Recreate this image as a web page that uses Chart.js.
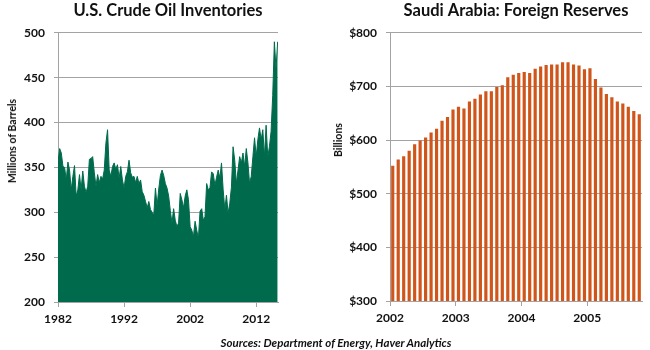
<!DOCTYPE html>
<html>
<head>
<meta charset="utf-8">
<script src="https://cdn.jsdelivr.net/npm/chart.js@4.4.1/dist/chart.umd.min.js"></script>
<style>
  html, body { margin: 0; padding: 0; background: #fff; }
  #wrap { position: relative; width: 650px; height: 350px; font-family: Lato, sans-serif; color: #111; }
  .panel { position: absolute; top: 0; width: 325px; height: 350px; }
  .ytitle { position: absolute; font-weight: bold; font-size: 10.5px; white-space: nowrap;
            transform: translate(-50%, -50%) rotate(-90deg); }
  #source { position: absolute; left: 336px; top: 342px; transform: translate(-50%, -50%);
            font-weight: bold; font-style: italic; font-size: 11.5px; white-space: nowrap; }
</style>
</head>
<body>
<div id="wrap">
  <div class="panel" style="left:0"><canvas id="oilChart" width="325" height="350"></canvas></div>
  <div class="panel" style="left:325px"><canvas id="reserveChart" width="325" height="350"></canvas></div>
  <div class="ytitle" style="left:12px; top:141px">Millions of Barrels</div>
  <div class="ytitle" style="left:338px; top:140px">Billions</div>
  <div id="source">Sources: Department of Energy, Haver Analytics</div>
</div>

<script>
// left panel: quarterly readings, millions of barrels
const invStart = 1982;
const invStep = 0.25;
const inventories = [
  356, 371, 366, 351,  350, 336, 356, 347,  325, 340, 352, 318,  325, 342, 325, 346,
  329, 322, 329, 359,  360, 362, 344, 329,  342, 333, 340, 337,  347, 377, 392, 347,
  340, 351, 355, 348,  353, 338, 351, 336,  327, 340, 345, 358,  344, 339, 340, 333,
  340, 332, 336, 323,  319, 312, 305, 312,  303, 300, 297, 327,  307, 326, 341, 347,
  341, 332, 327, 318,  302, 288, 304, 291,  284, 288, 321, 314,  305, 318, 325, 314,
  284, 280, 273, 290,  280, 271, 301, 304,  291, 295, 332, 325,  327, 345, 343, 330,
  339, 347, 338, 355,  325, 303, 319, 299,  310, 328, 373, 358,  332, 347, 362, 355,
  366, 351, 371, 355,  332, 340, 362, 383,  362, 381, 394, 381,  392, 362, 397, 362,
  373, 390, 430, 490,  460, 490
];
const invTicks = [1982, 1992, 2002, 2012];

// right panel: monthly, billions of dollars, Jan 2002 onward
const resStart = 2002;
const reserves = [
  552, 564, 570, 580, 592, 599, 605, 614, 621, 636, 643, 657,
  662, 659, 672, 677, 685, 691, 691, 699, 702, 717, 722, 725,
  727, 725, 733, 737, 740, 741, 741, 745, 745, 741, 739, 732,
  734, 714, 698, 686, 680, 672, 668, 662, 654, 648
];
const resTicks = [2002, 2003, 2004, 2005];

const GREEN = "#006B4C";
const ORANGE = "#D0551B";
const GRID = "#a3a3a3";
const TXT = "#111";
const tickFont = { family: "Lato", size: 12, weight: "bold" };
const titleFont = { family: "Lato", size: 16.5, weight: "bold" };

new Chart(document.getElementById("oilChart"), {
  type: "line",
  data: {
    datasets: [{
      data: inventories.map((v, i) => ({ x: invStart + i * invStep, y: v })),
      fill: "start",
      backgroundColor: GREEN,
      borderColor: GREEN,
      borderWidth: 1,
      pointRadius: 0,
      tension: 0
    }]
  },
  options: {
    responsive: false,
    animation: false,
    layout: { padding: { left: 0, right: 47, top: 0, bottom: 20 } },
    plugins: {
      legend: { display: false },
      tooltip: { enabled: false },
      title: {
        display: true,
        text: "U.S. Crude Oil Inventories",
        fullSize: false,
        font: titleFont,
        color: TXT,
        padding: { top: 1, bottom: 12 }
      }
    },
    scales: {
      x: {
        type: "linear",
        min: 1982,
        max: 2015.3,
        afterBuildTicks: s => { s.ticks = invTicks.map(v => ({ value: v })); },
        afterFit: s => { s.height = 28; },
        grid: { drawOnChartArea: false, tickLength: 5, color: GRID },
        border: { color: GRID },
        ticks: { font: tickFont, color: TXT, padding: 5, maxRotation: 0, autoSkip: false,
                 callback: v => String(v) }
      },
      y: {
        min: 200,
        max: 500,
        afterFit: s => { s.width = 58; },
        grid: { color: GRID, tickLength: 4 },
        border: { color: GRID },
        ticks: { stepSize: 50, font: tickFont, color: TXT, padding: 9 }
      }
    }
  }
});

new Chart(document.getElementById("reserveChart"), {
  type: "bar",
  data: {
    datasets: [{
      data: reserves.map((v, i) => ({ x: resStart + (i + 0.5) / 12, y: v })),
      backgroundColor: ORANGE,
      categoryPercentage: 1,
      barPercentage: 0.58
    }]
  },
  options: {
    responsive: false,
    animation: false,
    layout: { padding: { left: 0, right: 8, top: 0, bottom: 20 } },
    plugins: {
      legend: { display: false },
      tooltip: { enabled: false },
      title: {
        display: true,
        text: "Saudi Arabia: Foreign Reserves",
        fullSize: false,
        font: titleFont,
        color: TXT,
        padding: { top: 1, bottom: 12 }
      }
    },
    scales: {
      x: {
        type: "linear",
        offset: false,
        min: resStart,
        max: resStart + reserves.length / 12,
        afterBuildTicks: s => { s.ticks = resTicks.map(v => ({ value: v })); },
        afterFit: s => { s.height = 29; },
        grid: { offset: false, drawOnChartArea: false, tickLength: 5, color: GRID },
        border: { color: GRID },
        ticks: { font: tickFont, color: TXT, padding: 5, maxRotation: 0, autoSkip: false,
                 callback: v => String(v) }
      },
      y: {
        min: 300,
        max: 800,
        afterFit: s => { s.width = 65; },
        grid: { color: GRID, tickLength: 4 },
        border: { color: GRID },
        ticks: { stepSize: 100, font: tickFont, color: TXT, padding: 9,
                 callback: v => "$" + v }
      }
    }
  }
});
</script>
</body>
</html>
